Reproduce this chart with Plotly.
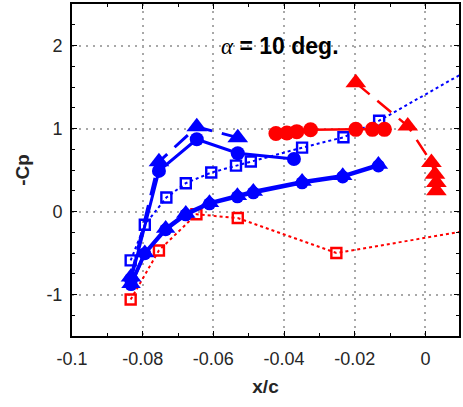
import plotly.graph_objects as go

# ---- data ----
# upper blue branch: filled circles, solid line
up_circ_x = [-0.0833, -0.0754, -0.0647, -0.0531, -0.0372]
up_circ_y = [-0.82, 0.489, 0.870, 0.702, 0.633]
# upper blue branch: filled triangles, dashed line
up_tri_x = [-0.0833, -0.0754, -0.0647, -0.0531]
up_tri_y = [-0.79, 0.60, 1.02, 0.89]
# lower blue branch: filled circles, solid line
lo_circ_x = [-0.0833, -0.0794, -0.0735, -0.0678, -0.0611, -0.0532, -0.0487, -0.0349, -0.0234, -0.0133]
lo_circ_y = [-0.881, -0.508, -0.22, -0.04, 0.093, 0.177, 0.225, 0.345, 0.417, 0.549]
# lower blue branch: filled triangles, solid line
lo_tri_x = [-0.0833, -0.0794, -0.0735, -0.0678, -0.0611, -0.0532, -0.0487, -0.0349, -0.0234, -0.0133]
lo_tri_y = [-0.87, -0.50, -0.205, -0.025, 0.105, 0.19, 0.24, 0.36, 0.43, 0.565]
# blue open squares, dotted line
bsq_x = [-0.0834, -0.0794, -0.0733, -0.0678, -0.0606, -0.0536, -0.0494, -0.0349, -0.0232, -0.0131, 0.012]
bsq_y = [-0.589, -0.160, 0.168, 0.341, 0.469, 0.553, 0.603, 0.769, 0.894, 1.094, 1.70]
# red open squares, dotted line
rsq_x = [-0.0834, -0.0754, -0.0648, -0.0531, -0.0252, 0.012]
rsq_y = [-1.061, -0.469, -0.034, -0.079, -0.50, -0.23]
# red filled circles, solid line
rc_x = [-0.0423, -0.0392, -0.0364, -0.0325, -0.0197, -0.0150, -0.0116]
rc_y = [0.94, 0.946, 0.962, 0.985, 0.99, 0.99, 0.99]
# red filled triangles, dashed line
rt_x = [-0.0197, -0.0050, 0.0017, 0.0027, 0.0031, 0.0031]
rt_y = [1.55, 1.03, 0.59, 0.45, 0.35, 0.25]

x_ticks = [-0.1, -0.08, -0.06, -0.04, -0.02, 0]
x_tick_text = ["-0.1", "-0.08", "-0.06", "-0.04", "-0.02", "0"]
y_ticks = [-1, 0, 1, 2]
y_tick_text = ["-1", "0", "1", "2"]

BLUE = "#0000ff"
RED = "#ff0000"

fig = go.Figure()

fig.add_trace(go.Scatter(x=rsq_x, y=rsq_y, mode="lines+markers",
                         line=dict(color=RED, width=2, dash="dot"),
                         marker=dict(symbol="square-open", size=10, color=RED, line=dict(width=2.4, color=RED))))
fig.add_trace(go.Scatter(x=bsq_x, y=bsq_y, mode="lines+markers",
                         line=dict(color=BLUE, width=2, dash="dot"),
                         marker=dict(symbol="square-open", size=10, color=BLUE, line=dict(width=2.4, color=BLUE))))
fig.add_trace(go.Scatter(x=rc_x, y=rc_y, mode="lines+markers",
                         line=dict(color=RED, width=2.5),
                         marker=dict(symbol="circle", size=15, color=RED)))
fig.add_trace(go.Scatter(x=rt_x, y=rt_y, mode="lines+markers",
                         line=dict(color=RED, width=2.5, dash="18px,10px"),
                         marker=dict(symbol="triangle-up", size=18, color=RED)))
fig.add_trace(go.Scatter(x=lo_circ_x, y=lo_circ_y, mode="lines+markers",
                         line=dict(color=BLUE, width=3.5),
                         marker=dict(symbol="circle", size=13, color=BLUE)))
fig.add_trace(go.Scatter(x=lo_tri_x, y=lo_tri_y, mode="lines+markers",
                         line=dict(color=BLUE, width=3.5),
                         marker=dict(symbol="triangle-up", size=17, color=BLUE)))
fig.add_trace(go.Scatter(x=up_circ_x, y=up_circ_y, mode="lines+markers",
                         line=dict(color=BLUE, width=3),
                         marker=dict(symbol="circle", size=14, color=BLUE)))
fig.add_trace(go.Scatter(x=up_tri_x, y=up_tri_y, mode="lines+markers",
                         line=dict(color=BLUE, width=3, dash="18px,10px"),
                         marker=dict(symbol="triangle-up", size=18, color=BLUE)))

axis_common = dict(
    showline=True, linecolor="black", linewidth=2, mirror="allticks",
    ticks="inside", ticklen=5, tickwidth=1.2, tickcolor="black",
    showgrid=True, gridcolor="#a8a8a8", griddash="2px,5px", gridwidth=1.5,
    zeroline=False,
    tickfont=dict(family="Liberation Sans, Arial, sans-serif", size=18, color="#262626"),
)

fig.update_xaxes(range=[-0.1, 0.0095], tickvals=x_ticks, ticktext=x_tick_text,
                 ticklabelstandoff=5,
                 minor=dict(dtick=0.01, tick0=0, ticks="inside", ticklen=3, tickcolor="black", showgrid=False),
                 title=dict(text="<b>x/c</b>", font=dict(family="Liberation Sans, Arial, sans-serif", size=19, color="#262626"), standoff=12),
                 **axis_common)
fig.update_yaxes(range=[-1.5, 2.5], tickvals=y_ticks, ticktext=y_tick_text,
                 ticklabelstandoff=4,
                 minor=dict(dtick=0.25, tick0=0, ticks="inside", ticklen=3, tickcolor="black", showgrid=False),
                 title=dict(text="<b>-Cp</b>", font=dict(family="Liberation Sans, Arial, sans-serif", size=19, color="#262626"), standoff=12),
                 **axis_common)

fig.add_annotation(x=-0.0585, y=2.0, xref="x", yref="y", xanchor="left", yanchor="middle",
                   showarrow=False,
                   text="<span style='font-family:Liberation Serif, serif; font-weight:normal'><i>α</i></span> <b>= 10 deg.</b>",
                   font=dict(family="Liberation Sans, Arial, sans-serif", size=23, color="black"),
                   bgcolor="rgba(0,0,0,0)")

fig.update_layout(width=463, height=407, margin=dict(l=72, r=2, t=4, b=71),
                  paper_bgcolor="white", plot_bgcolor="white", showlegend=False)

fig.write_html("out.html")
